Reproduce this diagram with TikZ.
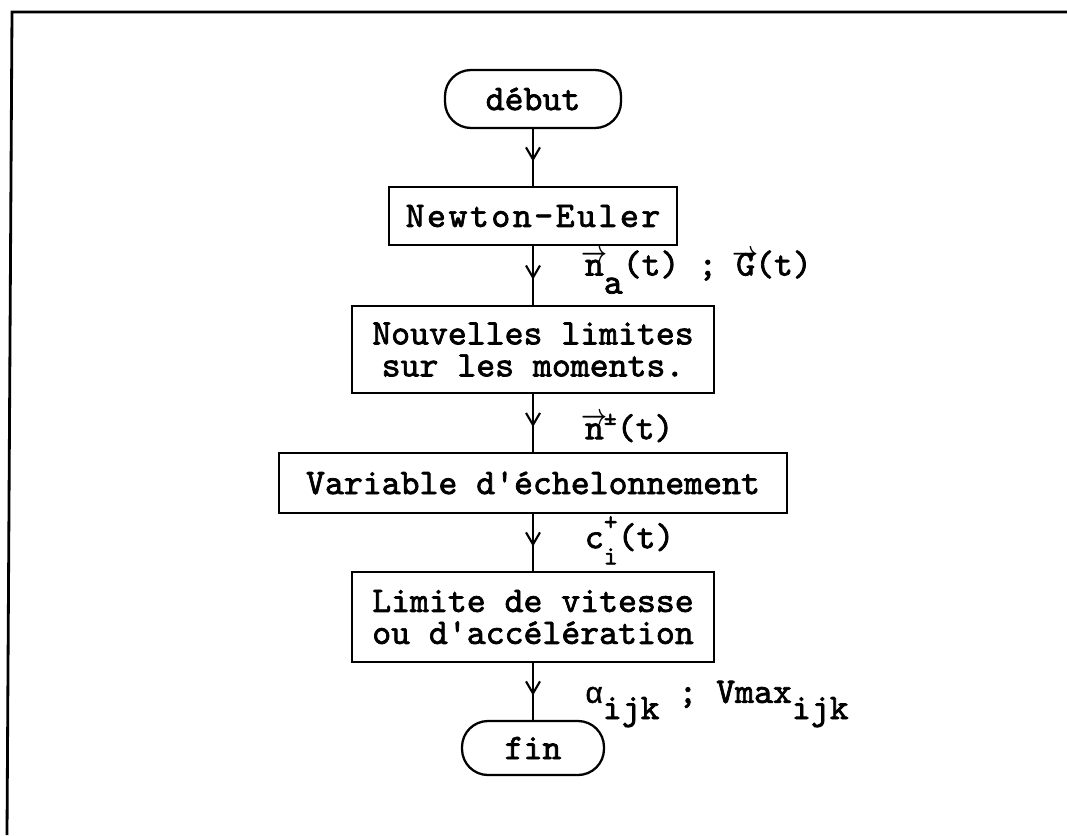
\documentclass[tikz,border=0pt]{standalone}
\usepackage{amsmath}
\usepackage{fontspec}
\newfontfamily\typewr{lmmono10-regular}[Extension=.otf,FakeBold=2]
\newfontfamily\grk{Liberation Mono}[FakeBold=1]
\newcommand\vt[1]{\ooalign{#1\cr\hidewidth\raisebox{0.4em}{\scalebox{0.62}[0.8]{$\boldsymbol{\rightarrow}$}}\hidewidth\cr}}
\usetikzlibrary{arrows.meta,decorations.markings}

\begin{document}
\begin{tikzpicture}[x=0.02cm,y=-0.02cm,
  every node/.style={font=\typewr\fontsize{20.5}{18.2}\selectfont},
  box/.style={draw,line width=1.3pt,align=center,inner sep=0pt},
  term/.style={box,rounded corners=0.52cm},
  flow/.style={line width=1.2pt,postaction={decorate},
    decoration={markings,mark=at position 0.57 with
      {\arrow[line width=1.2pt]{Straight Barb[length=0.24cm,width=0.28cm]}}}},
  lbl/.style={anchor=base west,xshift=0.9cm}]
  \useasboundingbox (0,0) rectangle (1067,835);
  \draw[line width=1.6pt] (7,835) -- (12,12) -- (1067,12);

  \node[term,minimum width=3.52cm,minimum height=1.16cm] (deb) at (533,99) {début};
  \node[box,minimum width=5.76cm,minimum height=1.16cm] (ne) at (533,216) {\addfontfeatures{LetterSpace=7}Newton-Euler};
  \node[box,minimum width=7.24cm,minimum height=1.74cm] (nl) at (533,349.5) {Nouvelles limites\\sur les moments.};
  \node[box,minimum width=10.16cm,minimum height=1.2cm] (ve) at (533,483) {Variable d'échelonnement};
  \node[box,minimum width=7.24cm,minimum height=1.8cm] (lv) at (533,617) {Limite de vitesse\\ou d'accélération};
  \node[term,minimum width=2.84cm,minimum height=1.08cm] (fin) at (533,748) {fin};

  \draw[flow] (deb) -- (ne);
  \draw[flow] (ne) -- (nl)
    node[lbl,pos=0.5] {\vt{n}\raisebox{-0.5em}{a}(t) ; \vt{G}(t)};
  \draw[flow] (nl) -- (ve)
    node[lbl,pos=0.78] {\vt{n}\raisebox{0.4em}{\fontsize{14}{14}\selectfont±}(t)};
  \draw[flow] (ve) -- (lv)
    node[lbl,pos=0.6] {c\rlap{\raisebox{0.5em}{\fontsize{15}{15}\selectfont+}}\raisebox{-0.45em}{\fontsize{15}{15}\selectfont i}(t)};
  \draw[flow] (lv) -- (fin)
    node[lbl,pos=0.7] {{\grk\fontsize{17}{17}\selectfont α}\raisebox{-0.45em}{ijk} ; Vmax\raisebox{-0.45em}{ijk}};
\end{tikzpicture}
\end{document}
